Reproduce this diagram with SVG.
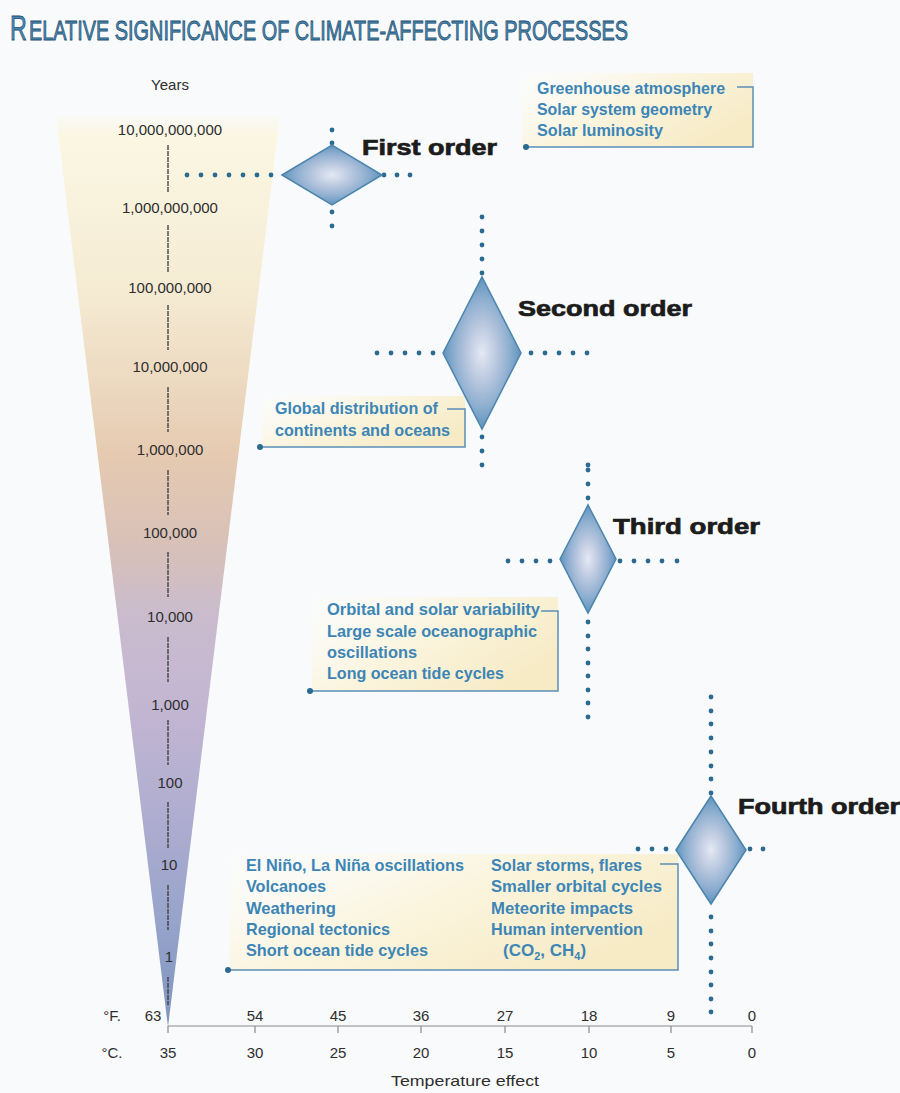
<svg xmlns="http://www.w3.org/2000/svg" width="900" height="1093" viewBox="0 0 900 1093">
<defs>
<style>
.ttl{font-family:"Liberation Sans",Arial,sans-serif;fill:#4a87b0;stroke:#1e4f70;stroke-width:0.8}
.num{font-family:"Liberation Sans",Arial,sans-serif;font-size:15px;fill:#2e2e2e;text-anchor:middle}
.ax{font-family:"Liberation Sans",Arial,sans-serif;font-size:15px;fill:#2e2e2e;text-anchor:middle}
.ord{font-family:"Liberation Sans",Arial,sans-serif;font-size:22px;font-weight:bold;fill:#1c1c1c;stroke:#1c1c1c;stroke-width:0.7}
.lb{font-family:"Liberation Sans",Arial,sans-serif;font-size:17px;font-weight:bold;fill:#3c85b6}
.d{fill:#2b6b90}
.br{fill:none;stroke:#5a8fb8;stroke-width:1.5}
.dm{fill:url(#dg);stroke:#4b85ad;stroke-width:1.5}
.sc{stroke:#3a3a3a;stroke-width:1.3;stroke-dasharray:5 1}
.tk{stroke:#8a8a8a;stroke-width:1.2}
</style>
<radialGradient id="dg" cx="0.5" cy="0.5" r="0.5">
<stop offset="0" stop-color="#e4e9f4"/>
<stop offset="0.35" stop-color="#bdcae0"/>
<stop offset="0.7" stop-color="#8fafd0"/>
<stop offset="1" stop-color="#5f93bd"/>
</radialGradient>
<linearGradient id="cone" gradientUnits="userSpaceOnUse" x1="0" y1="108" x2="0" y2="1027">
<stop offset="0" stop-color="#fbf8e8" stop-opacity="0"/>
<stop offset="0.03" stop-color="#fbf7e3"/>
<stop offset="0.2" stop-color="#f5ebd3"/>
<stop offset="0.3" stop-color="#ecd9c0"/>
<stop offset="0.38" stop-color="#e5cab1"/>
<stop offset="0.47" stop-color="#d9c1b7"/>
<stop offset="0.55" stop-color="#cabccd"/>
<stop offset="0.65" stop-color="#c3b6d2"/>
<stop offset="0.77" stop-color="#afadd0"/>
<stop offset="0.88" stop-color="#98a4cb"/>
<stop offset="1" stop-color="#7f95be"/>
</linearGradient>
<linearGradient id="bx" x1="0" y1="0" x2="1" y2="0.6">
<stop offset="0" stop-color="#fdfcf6" stop-opacity="0.2"/>
<stop offset="0.5" stop-color="#fbf5df"/>
<stop offset="1" stop-color="#f7ebc6"/>
</linearGradient>
</defs>
<rect x="0" y="0" width="900" height="1093" fill="#f9fafb"/>

<g id="title">
<text class="ttl" transform="translate(10,40) scale(0.65,1)" x="0" y="0" font-size="36">R</text>
<text class="ttl" x="29" y="40" font-size="27" textLength="599" lengthAdjust="spacingAndGlyphs">ELATIVE SIGNIFICANCE OF CLIMATE-AFFECTING PROCESSES</text>
</g>

<g id="time-scale">
<polygon points="56,116 280,116 168,1027" fill="url(#cone)"/>
<text class="num" x="170" y="90">Years</text>
<text class="num" x="170" y="135">10,000,000,000</text>
<text class="num" x="170" y="213">1,000,000,000</text>
<text class="num" x="170" y="293">100,000,000</text>
<text class="num" x="170" y="372">10,000,000</text>
<text class="num" x="170" y="455">1,000,000</text>
<text class="num" x="170" y="538">100,000</text>
<text class="num" x="170" y="622">10,000</text>
<text class="num" x="170" y="710">1,000</text>
<text class="num" x="170" y="788">100</text>
<text class="num" x="169" y="870">10</text>
<text class="num" x="169" y="962">1</text>
<line class="sc" x1="168" y1="145" x2="168" y2="192"/>
<line class="sc" x1="168" y1="225" x2="168" y2="272"/>
<line class="sc" x1="168" y1="305" x2="168" y2="350"/>
<line class="sc" x1="168" y1="387" x2="168" y2="432"/>
<line class="sc" x1="168" y1="470" x2="168" y2="515"/>
<line class="sc" x1="168" y1="552" x2="168" y2="597"/>
<line class="sc" x1="168" y1="637" x2="168" y2="682"/>
<line class="sc" x1="168" y1="720" x2="168" y2="765"/>
<line class="sc" x1="168" y1="802" x2="168" y2="848"/>
<line class="sc" x1="168" y1="885" x2="168" y2="930"/>
<line class="sc" x1="168" y1="977" x2="168" y2="1005"/>
</g>

<g id="temperature-axis">
<line class="tk" x1="168" y1="1026" x2="752" y2="1026"/>
<path class="tk" d="M168,1026v7M255,1026v7M338,1026v7M421,1026v7M505,1026v7M589,1026v7M671,1026v7M752,1026v7"/>
<text class="ax" x="112" y="1021">°F.</text>
<text class="ax" x="112" y="1058">°C.</text>
<text class="ax" x="153" y="1021">63</text>
<text class="ax" x="255" y="1021">54</text>
<text class="ax" x="338" y="1021">45</text>
<text class="ax" x="421" y="1021">36</text>
<text class="ax" x="505" y="1021">27</text>
<text class="ax" x="589" y="1021">18</text>
<text class="ax" x="671" y="1021">9</text>
<text class="ax" x="752" y="1021">0</text>
<text class="ax" x="168" y="1058">35</text>
<text class="ax" x="255" y="1058">30</text>
<text class="ax" x="338" y="1058">25</text>
<text class="ax" x="421" y="1058">20</text>
<text class="ax" x="505" y="1058">15</text>
<text class="ax" x="589" y="1058">10</text>
<text class="ax" x="671" y="1058">5</text>
<text class="ax" x="752" y="1058">0</text>
<text class="ax" x="465" y="1086" textLength="148" lengthAdjust="spacingAndGlyphs">Temperature effect</text>
</g>

<g id="box-first">
<rect x="522" y="73" width="231" height="74" fill="url(#bx)"/>
<path class="br" d="M526,147H753V87H737"/>
<circle class="d" cx="526" cy="147" r="3"/>
<text class="lb" x="537" y="94" textLength="188" lengthAdjust="spacingAndGlyphs">Greenhouse atmosphere</text>
<text class="lb" x="537" y="115" textLength="175" lengthAdjust="spacingAndGlyphs">Solar system geometry</text>
<text class="lb" x="537" y="136" textLength="126" lengthAdjust="spacingAndGlyphs">Solar luminosity</text>
</g>

<g id="box-second">
<rect x="262" y="396" width="203" height="51" fill="url(#bx)"/>
<path class="br" d="M260,447H465V409H447"/>
<circle class="d" cx="260" cy="447" r="3"/>
<text class="lb" x="275" y="414" textLength="163" lengthAdjust="spacingAndGlyphs">Global distribution of</text>
<text class="lb" x="275" y="436" textLength="175" lengthAdjust="spacingAndGlyphs">continents and oceans</text>
</g>

<g id="box-third">
<rect x="312" y="597" width="246" height="94" fill="url(#bx)"/>
<path class="br" d="M310,691H558V611H541"/>
<circle class="d" cx="310" cy="691" r="3"/>
<text class="lb" x="327" y="615" textLength="213" lengthAdjust="spacingAndGlyphs">Orbital and solar variability</text>
<text class="lb" x="327" y="637" textLength="210" lengthAdjust="spacingAndGlyphs">Large scale oceanographic</text>
<text class="lb" x="327" y="658" textLength="90" lengthAdjust="spacingAndGlyphs">oscillations</text>
<text class="lb" x="327" y="679" textLength="177" lengthAdjust="spacingAndGlyphs">Long ocean tide cycles</text>
</g>

<g id="box-fourth">
<rect x="230" y="854" width="448" height="116" fill="url(#bx)"/>
<path class="br" d="M228,970H678V864H660"/>
<circle class="d" cx="228" cy="970" r="3"/>
<text class="lb" x="246" y="871" textLength="218" lengthAdjust="spacingAndGlyphs">El Niño, La Niña oscillations</text>
<text class="lb" x="246" y="892" textLength="80" lengthAdjust="spacingAndGlyphs">Volcanoes</text>
<text class="lb" x="246" y="914" textLength="90" lengthAdjust="spacingAndGlyphs">Weathering</text>
<text class="lb" x="246" y="935" textLength="144" lengthAdjust="spacingAndGlyphs">Regional tectonics</text>
<text class="lb" x="246" y="956" textLength="182" lengthAdjust="spacingAndGlyphs">Short ocean tide cycles</text>
<text class="lb" x="491" y="871" textLength="151" lengthAdjust="spacingAndGlyphs">Solar storms, flares</text>
<text class="lb" x="491" y="892" textLength="171" lengthAdjust="spacingAndGlyphs">Smaller orbital cycles</text>
<text class="lb" x="491" y="914" textLength="142" lengthAdjust="spacingAndGlyphs">Meteorite impacts</text>
<text class="lb" x="491" y="935" textLength="152" lengthAdjust="spacingAndGlyphs">Human intervention</text>
<text class="lb" x="503" y="956">(CO<tspan font-size="11" dy="4">2</tspan><tspan dy="-4">, CH</tspan><tspan font-size="11" dy="4">4</tspan><tspan dy="-4">)</tspan></text>
</g>

<g id="connectors">
<circle class="d" cx="187" cy="175" r="2.4"/><circle class="d" cx="201" cy="175" r="2.4"/><circle class="d" cx="215" cy="175" r="2.4"/><circle class="d" cx="229" cy="175" r="2.4"/><circle class="d" cx="243" cy="175" r="2.4"/><circle class="d" cx="257" cy="175" r="2.4"/><circle class="d" cx="271" cy="175" r="2.4"/>
<circle class="d" cx="384" cy="175" r="2.4"/><circle class="d" cx="397" cy="175" r="2.4"/><circle class="d" cx="410" cy="175" r="2.4"/>
<circle class="d" cx="332" cy="130" r="2.4"/><circle class="d" cx="332" cy="143" r="2.4"/>
<circle class="d" cx="332" cy="212" r="2.4"/><circle class="d" cx="332" cy="226" r="2.4"/>
<circle class="d" cx="482" cy="217" r="2.4"/><circle class="d" cx="482" cy="231" r="2.4"/><circle class="d" cx="482" cy="245" r="2.4"/><circle class="d" cx="482" cy="259" r="2.4"/><circle class="d" cx="482" cy="273" r="2.4"/>
<circle class="d" cx="482" cy="437" r="2.4"/><circle class="d" cx="482" cy="451" r="2.4"/><circle class="d" cx="482" cy="465" r="2.4"/>
<circle class="d" cx="377" cy="353" r="2.4"/><circle class="d" cx="391" cy="353" r="2.4"/><circle class="d" cx="405" cy="353" r="2.4"/><circle class="d" cx="419" cy="353" r="2.4"/><circle class="d" cx="433" cy="353" r="2.4"/>
<circle class="d" cx="531" cy="353" r="2.4"/><circle class="d" cx="545" cy="353" r="2.4"/><circle class="d" cx="559" cy="353" r="2.4"/><circle class="d" cx="573" cy="353" r="2.4"/><circle class="d" cx="587" cy="353" r="2.4"/>
<circle class="d" cx="588" cy="465" r="2.4"/><circle class="d" cx="588" cy="470" r="2.4"/><circle class="d" cx="588" cy="484" r="2.4"/><circle class="d" cx="588" cy="498" r="2.4"/>
<circle class="d" cx="588" cy="622" r="2.4"/><circle class="d" cx="588" cy="636" r="2.4"/><circle class="d" cx="588" cy="649" r="2.4"/><circle class="d" cx="588" cy="663" r="2.4"/><circle class="d" cx="588" cy="676" r="2.4"/><circle class="d" cx="588" cy="690" r="2.4"/><circle class="d" cx="588" cy="703" r="2.4"/><circle class="d" cx="588" cy="717" r="2.4"/>
<circle class="d" cx="508" cy="561" r="2.4"/><circle class="d" cx="522" cy="561" r="2.4"/><circle class="d" cx="536" cy="561" r="2.4"/><circle class="d" cx="550" cy="561" r="2.4"/>
<circle class="d" cx="620" cy="561" r="2.4"/><circle class="d" cx="634" cy="561" r="2.4"/><circle class="d" cx="648" cy="561" r="2.4"/><circle class="d" cx="662" cy="561" r="2.4"/><circle class="d" cx="677" cy="561" r="2.4"/>
<circle class="d" cx="711" cy="697" r="2.4"/><circle class="d" cx="711" cy="711" r="2.4"/><circle class="d" cx="711" cy="724" r="2.4"/><circle class="d" cx="711" cy="738" r="2.4"/><circle class="d" cx="711" cy="752" r="2.4"/><circle class="d" cx="711" cy="766" r="2.4"/><circle class="d" cx="711" cy="779" r="2.4"/><circle class="d" cx="711" cy="793" r="2.4"/>
<circle class="d" cx="711" cy="917" r="2.4"/><circle class="d" cx="711" cy="931" r="2.4"/><circle class="d" cx="711" cy="944" r="2.4"/><circle class="d" cx="711" cy="958" r="2.4"/><circle class="d" cx="711" cy="972" r="2.4"/><circle class="d" cx="711" cy="985" r="2.4"/><circle class="d" cx="711" cy="999" r="2.4"/><circle class="d" cx="711" cy="1012" r="2.4"/>
<circle class="d" cx="638" cy="849" r="2.4"/><circle class="d" cx="652" cy="849" r="2.4"/><circle class="d" cx="666" cy="849" r="2.4"/>
<circle class="d" cx="750" cy="849" r="2.4"/><circle class="d" cx="763" cy="849" r="2.4"/>
</g>

<g id="first-order">
<polygon class="dm" points="282,175 332,145 382,175 332,205"/>
<text class="ord" x="362" y="155" textLength="135" lengthAdjust="spacingAndGlyphs">First order</text>
</g>
<g id="second-order">
<polygon class="dm" points="443,353 482,277 521,353 482,429"/>
<text class="ord" x="518" y="316" textLength="174" lengthAdjust="spacingAndGlyphs">Second order</text>
</g>
<g id="third-order">
<polygon class="dm" points="560,559 588,505 616,559 588,613"/>
<text class="ord" x="613" y="534" textLength="147" lengthAdjust="spacingAndGlyphs">Third order</text>
</g>
<g id="fourth-order">
<polygon class="dm" points="676,850 711,796 746,850 711,904"/>
<text class="ord" x="738" y="814" textLength="162" lengthAdjust="spacingAndGlyphs">Fourth order</text>
</g>
</svg>
